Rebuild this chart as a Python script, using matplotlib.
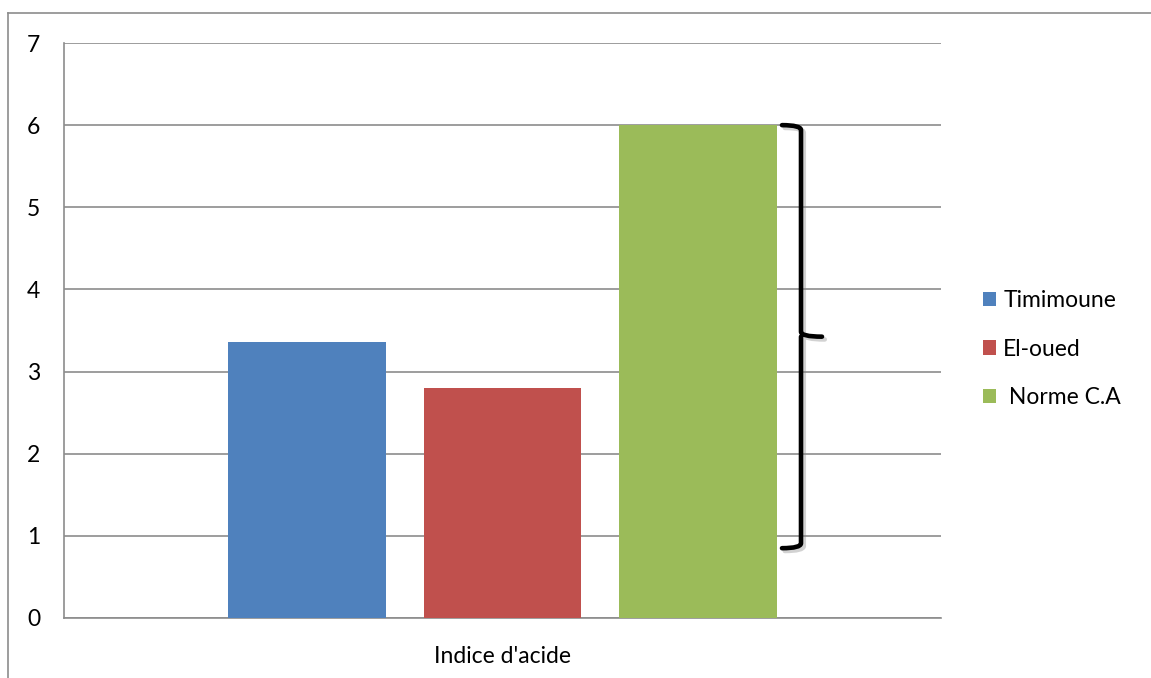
import matplotlib
matplotlib.use("Agg")
import matplotlib.pyplot as plt
from matplotlib.lines import Line2D
from matplotlib.path import Path
from matplotlib.patches import PathPatch
import matplotlib.patheffects as pe
import matplotlib.transforms as mtransforms

plt.rcParams['font.family'] = ['Lato', 'DejaVu Sans']

# Data
category = "Indice d'acide"
series = ["Timimoune", "El-oued", " Norme C.A"]
values = [3.36, 2.80, 6.0]
colors = ["#4F81BD", "#C0504D", "#9BBB59"]
norm_range = [0.85, 6.0]  # range marked by the brace
yticks = [0, 1, 2, 3, 4, 5, 6, 7]

FS = 16.5

W, H = 1151, 678
fig = plt.figure(figsize=(W / 100, H / 100), dpi=100)

# Plot area in pixel coordinates
left, right, top, bottom = 64, 941, 43, 618
ax = fig.add_axes([left / W, 1 - bottom / H, (right - left) / W, (bottom - top) / H])

bar_w = 0.18
offsets = [-0.223, 0.0, 0.223]
for name, v, c, off in zip(series, values, colors, offsets):
    ax.bar(off, v, width=bar_w, color=c, label=name, zorder=3)

ax.set_xlim(-0.5, 0.5)
ax.set_ylim(0, 7)
ax.set_yticks(yticks)
ax.set_yticklabels([str(t) for t in yticks], fontsize=FS)
ax.tick_params(axis='y', length=0, pad=17)
ax.set_xticks([0])
ax.set_xticklabels([category], fontsize=FS)
ax.tick_params(axis='x', length=0, pad=20)
ax.yaxis.grid(True, color="#8C8C8C", linewidth=1.2, zorder=0)
ax.set_axisbelow(True)
for s in ['top', 'right']:
    ax.spines[s].set_visible(False)
for s in ['left', 'bottom']:
    ax.spines[s].set_color("#8C8C8C")
    ax.spines[s].set_linewidth(1.2)

# Brace marking the norm range (x in axes fraction, y in data units)
trans = mtransforms.blended_transform_factory(ax.transAxes, ax.transData)
lo, hi = norm_range
mid = (lo + hi) / 2
xt = (782 - left) / (right - left)
xv = (801 - left) / (right - left)
xm = (822 - left) / (right - left)
r = 0.06
verts = [
    (xt, hi), (xv, hi), (xv, hi - r),
    (xv, mid + r), (xv, mid), (xm, mid),
    (xv, mid), (xv, mid - r),
    (xv, lo + r), (xv, lo), (xt, lo),
]
codes = [
    Path.MOVETO, Path.CURVE3, Path.CURVE3,
    Path.LINETO, Path.CURVE3, Path.CURVE3,
    Path.MOVETO, Path.LINETO,
    Path.LINETO, Path.CURVE3, Path.CURVE3,
]
brace = PathPatch(Path(verts, codes), transform=trans, fill=False,
                  edgecolor="black", linewidth=3.3, capstyle='round',
                  joinstyle='round', zorder=5, clip_on=False)
brace.set_path_effects([pe.SimpleLineShadow(offset=(2, -2), shadow_color='gray', alpha=0.35),
                        pe.Normal()])
ax.add_patch(brace)

# Legend
handles, labels = ax.get_legend_handles_labels()
leg = fig.legend(handles, labels, loc='center left',
                 bbox_to_anchor=(962 / W, 1 - 349 / H), frameon=False,
                 fontsize=FS, handlelength=0.6, handleheight=0.6,
                 handletextpad=0.3, labelspacing=1.2)

# Chart border
fig.add_artist(Line2D([8 / W, 8 / W], [0, 1 - 13 / H], color="#8C8C8C", linewidth=1.2))
fig.add_artist(Line2D([8 / W, 1], [1 - 13 / H, 1 - 13 / H], color="#8C8C8C", linewidth=1.2))

fig.savefig("out.png", dpi=100)
